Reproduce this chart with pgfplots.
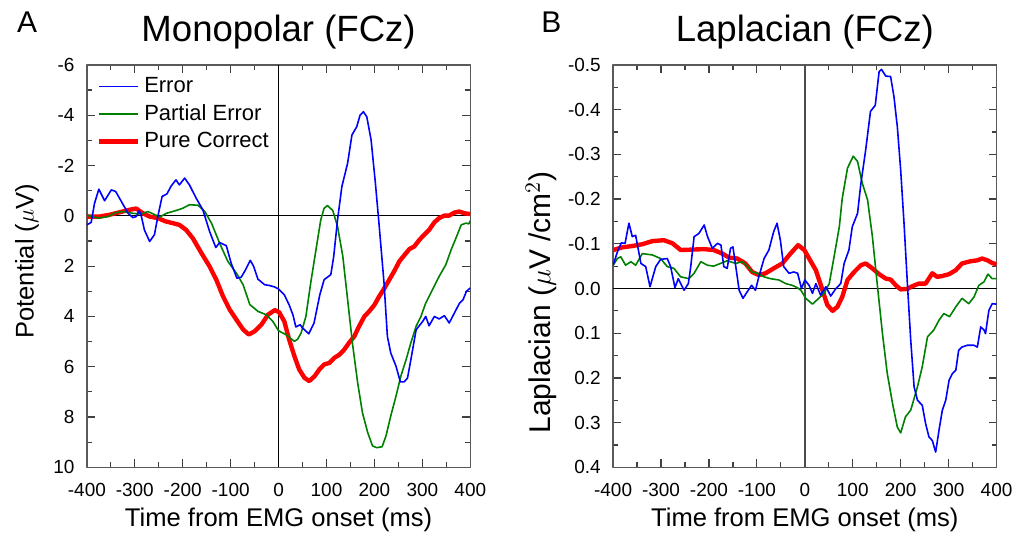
\documentclass[border=0pt]{standalone}
\usepackage{fontspec}
\setmainfont{Liberation Sans}
\usepackage{pgfplots}
\pgfplotsset{compat=1.18}

\definecolor{err}{RGB}{0,0,255}
\definecolor{part}{RGB}{0,128,0}
\definecolor{pure}{RGB}{255,0,0}

\pgfplotsset{
  eeg/.style={
    scale only axis, width=192pt, height=201.5pt,
    clip mode=individual,
    xmin=-400, xmax=400, y dir=reverse,
    xtick={-400,-300,-200,-100,0,100,200,300,400},
    minor xtick={-350,-250,-150,-50,50,150,250,350},
    xticklabels={-400,-300,-200,-100,0,100,200,300,400},
    tick align=inside, xtick pos=both, ytick pos=both,
    major tick length=4pt, minor tick length=2.5pt,
    axis line style={black!65, line width=0.7pt},
    every tick/.style={black!75, line width=0.6pt},
    every minor tick/.style={black!75, line width=0.6pt},
    tick label style={font=\fontsize{9.5}{10}\selectfont},
    xticklabel style={anchor=base, yshift=-14.5pt},
    yticklabel style={anchor=east, inner sep=0pt, xshift=-6pt},
    every axis x label/.style={at={(axis description cs:0.5,0)}, anchor=base, yshift=-29.5pt,
      font=\fontsize{12.8}{14}\selectfont},
    xlabel={Time from EMG onset (ms)},
    line join=round,
  },
  errline/.style={err, line width=0.8pt},
  partline/.style={part, line width=0.8pt},
  pureline/.style={pure, line width=2.2pt},
}

\begin{document}
\begin{tikzpicture}

% ---- A: Monopolar
\begin{axis}[eeg,
  ymin=-6, ymax=10,
  ytick={-6,-4,-2,0,2,4,6,8,10},
  minor ytick={-5,-3,-1,1,3,5,7,9},
  yticklabels={-6,-4,-2,0,2,4,6,8,10},
  every axis y label/.style={at={(axis description cs:-0.156,0.512)}, rotate=90, anchor=center,
    font=\fontsize{12.8}{14}\selectfont},
  ylabel={Potential ($\mu$V)},
  legend style={at={(axis description cs:0.02,0.985)}, anchor=north west, draw=none, fill=none,
    font=\fontsize{11}{12}\selectfont, row sep=0.5pt, inner sep=1pt,
    /tikz/every even column/.append style={column sep=0pt}},
  legend image code/.code={\draw[#1] (0pt,0pt) -- (19.5pt,0pt);},
  legend cell align=left,
]
\addlegendimage{draw=err, line width=0.8pt}
\addlegendentry{Error}
\addlegendimage{draw=part, line width=0.8pt}
\addlegendentry{Partial Error}
\addlegendimage{draw=pure, line width=2.2pt}
\addlegendentry{Pure Correct}

\addplot[black, line width=0.5pt, forget plot] coordinates {(-400,0)(400,0)};
\addplot[black, line width=0.5pt, forget plot] coordinates {(0,-6)(0,10)};

\addplot[pureline, forget plot] coordinates {
(-400,0.03)(-374,0.03)(-353,-0.04)(-328,-0.16)(-311,-0.24)(-297,-0.29)(-283,-0.1)(-269,0.03)
(-252,0.09)(-236,0.22)(-221,0.29)(-207,0.36)(-193,0.56)(-179,0.89)(-161,1.48)(-144,2.01)
(-130,2.54)(-116,3.2)(-102,3.73)(-88,4.13)(-74,4.52)(-62,4.72)(-50,4.59)(-36,4.33)(-22,3.93)
(-8,3.75)(1,3.83)(12,4.2)(22,4.92)(33,5.58)(43,6.11)(54,6.44)(64,6.57)(75,6.38)(85,6.11)
(95,5.91)(106,5.85)(116,5.65)(127,5.52)(137,5.32)(147,5.05)(158,4.79)(168,4.39)(179,4.0)
(189,3.8)(200,3.54)(210,3.2)(221,2.87)(231,2.54)(241,2.21)(252,1.81)(263,1.55)(273,1.32)
(283,1.22)(294,0.95)(304,0.75)(314,0.56)(325,0.26)(335,0.09)(346,-0.01)(356,-0.01)(367,-0.13)
(377,-0.17)(388,-0.1)(400,-0.07)};

\addplot[partline, forget plot] coordinates {
(-400,-0.04)(-391,0.03)(-374,0.09)(-356,0.03)(-339,-0.13)(-325,-0.17)(-304,-0.1)(-287,-0.07)
(-273,-0.17)(-262,-0.08)(-248,0.05)(-234,-0.1)(-214,-0.21)(-200,-0.3)(-186,-0.44)(-168,-0.42)
(-154,-0.17)(-140,0.29)(-123,1.09)(-106,1.81)(-88,2.28)(-74,2.74)(-60,3.53)(-43,3.8)(-26,3.93)
(-12,4.2)(0,4.57)(15,4.72)(33,4.99)(40,4.9)(47,4.66)(57,4.0)(67,2.67)(78,1.35)(88,0.16)
(95,-0.3)(102,-0.41)(113,-0.21)(123,0.42)(134,1.61)(144,3.33)(154,5.05)(165,6.64)(175,7.83)
(186,8.62)(196,9.15)(205,9.22)(216,9.18)(224,8.76)(234,7.96)(245,7.17)(255,6.38)(266,5.72)
(276,5.05)(287,4.39)(297,4.0)(307,3.47)(321,2.94)(335,2.41)(349,1.94)(360,1.35)(370,0.89)
(381,0.36)(391,0.29)(397,0.32)(400,0.19)};

\addplot[errline, forget plot] coordinates {
(-400,0.36)(-391,0.26)(-384,-0.5)(-375,-1.06)(-363,-0.6)(-349,-1.03)(-340,-0.97)(-328,-0.57)
(-314,-0.1)(-304,0.07)(-297,0.03)(-291,-0.2)(-287,-0.04)(-280,0.56)(-269,1.02)(-259,0.75)
(-252,0.03)(-243,-0.77)(-233,-0.87)(-224,-1.19)(-214,-1.43)(-207,-1.23)(-196,-1.5)(-186,-1.23)
(-172,-0.7)(-158,-0.24)(-144,0.62)(-131,1.26)(-123,1.06)(-109,1.19)(-99,1.88)(-87,2.48)
(-78,2.44)(-69,2.15)(-59,1.77)(-52,2.01)(-43,2.52)(-29,2.74)(-19,2.77)(-8,2.83)(0,2.91)
(12,3.14)(22,3.54)(30,3.94)(36,4.42)(45,4.33)(50,4.46)(63,4.69)(74,4.26)(86,3.14)(95,2.54)
(109,2.34)(115,1.62)(123,0.16)(132,-1.16)(144,-2.09)(153,-3.21)(163,-3.54)(170,-4.0)
(177,-4.14)(184,-3.94)(193,-3.02)(202,-1.3)(210,0.42)(220,2.67)(227,4.79)(234,5.45)(245,5.98)
(254,6.6)(262,6.6)(269,6.45)(276,5.72)(287,4.53)(301,4.19)(307,4.0)(314,4.37)(325,4.0)
(335,4.1)(346,3.97)(356,4.26)(367,3.86)(377,3.49)(385,3.33)(392,3.0)(400,2.87)};

\node[anchor=base, font=\fontsize{18.3}{20}\selectfont] at (rel axis cs:0.5,1) [yshift=11.5pt] {Monopolar (FCz)};
\node[anchor=base west, font=\fontsize{15}{16}\selectfont] at (rel axis cs:0,1) [xshift=-38.5pt, yshift=16pt] {A};
\end{axis}

% ---- B: Laplacian
\begin{axis}[eeg, at={(263.5pt,0pt)},
  ymin=-0.5, ymax=0.4,
  ytick={-0.5,-0.4,-0.3,-0.2,-0.1,0,0.1,0.2,0.3,0.4},
  minor ytick={-0.45,-0.35,-0.25,-0.15,-0.05,0.05,0.15,0.25,0.35},
  yticklabels={-0.5,-0.4,-0.3,-0.2,-0.1,0.0,0.1,0.2,0.3,0.4},
  every axis y label/.style={at={(axis description cs:-0.1875,0.41)}, rotate=90, anchor=center,
    font=\fontsize{15}{16}\selectfont},
  ylabel={Laplacian ($\mu$V /cm$^{2}$)},
]
\addplot[black, line width=0.5pt] coordinates {(-400,0)(400,0)};
\addplot[black!70, line width=0.7pt] coordinates {(0,-0.5)(0,0.4)};

\addplot[pureline] coordinates {
(-400,-0.086)(-381,-0.092)(-360,-0.095)(-339,-0.099)(-318,-0.106)(-294,-0.108)(-276,-0.101)
(-259,-0.086)(-235,-0.087)(-210,-0.088)(-190,-0.086)(-172,-0.078)(-158,-0.069)(-141,-0.067)
(-124,-0.056)(-110,-0.037)(-96,-0.03)(-82,-0.034)(-65,-0.045)(-47,-0.056)(-30,-0.078)
(-14,-0.097)(-1,-0.086)(9,-0.067)(23,-0.041)(37,0.004)(47,0.037)(58,0.05)(68,0.041)(78,0.019)
(89,-0.019)(103,-0.037)(117,-0.052)(127,-0.056)(141,-0.045)(155,-0.032)(169,-0.022)(179,-0.02)
(190,-0.007)(200,0.002)(214,0.001)(224,-0.005)(238,-0.011)(252,-0.011)(266,-0.034)(276,-0.026)
(287,-0.028)(301,-0.032)(315,-0.041)(328,-0.056)(346,-0.061)(360,-0.063)(370,-0.067)
(381,-0.063)(391,-0.057)(400,-0.054)};

\addplot[partline] coordinates {
(-400,-0.052)(-391,-0.067)(-384,-0.071)(-374,-0.052)(-363,-0.06)(-353,-0.052)(-339,-0.078)
(-318,-0.075)(-301,-0.067)(-287,-0.049)(-273,-0.045)(-259,-0.026)(-242,-0.022)(-231,-0.034)
(-217,-0.06)(-203,-0.052)(-190,-0.05)(-176,-0.056)(-162,-0.062)(-144,-0.056)(-131,-0.06)
(-120,-0.05)(-110,-0.037)(-99,-0.034)(-85,-0.026)(-72,-0.022)(-54,-0.019)(-40,-0.011)
(-26,-0.007)(-16,-0.002)(-8,0.004)(2,0.022)(16,0.035)(26,0.025)(40,0.011)(51,-0.011)
(61,-0.071)(72,-0.138)(78,-0.201)(89,-0.269)(101,-0.296)(110,-0.284)(120,-0.235)(131,-0.198)
(141,-0.116)(151,-0.011)(162,0.101)(172,0.19)(183,0.257)(193,0.31)(200,0.323)(210,0.287)
(221,0.272)(235,0.22)(245,0.175)(256,0.108)(269,0.093)(280,0.071)(290,0.056)(302,0.063)
(315,0.041)(328,0.022)(342,0.034)(353,0.019)(363,-0.007)(374,-0.015)(382,-0.032)(391,-0.022)
(400,-0.022)};

\addplot[errline] coordinates {
(-400,-0.052)(-391,-0.082)(-383,-0.102)(-375,-0.101)(-367,-0.146)(-360,-0.116)(-353,-0.119)
(-342,-0.056)(-332,-0.049)(-323,-0.004)(-311,-0.049)(-301,-0.065)(-287,-0.067)(-280,-0.049)
(-271,-0.002)(-264,-0.022)(-252,0.004)(-243,-0.011)(-238,-0.049)(-231,-0.116)(-221,-0.123)
(-210,-0.142)(-203,-0.116)(-193,-0.09)(-182,-0.101)(-175,-0.097)(-169,-0.049)(-162,-0.045)
(-155,-0.09)(-150,-0.093)(-144,-0.049)(-137,0.004)(-129,0.022)(-120,0.007)(-111,-0.007)
(-103,0.004)(-96,-0.026)(-85,-0.067)(-75,-0.086)(-65,-0.127)(-58,-0.146)(-51,-0.108)
(-44,-0.049)(-33,-0.034)(-23,-0.037)(-15,-0.034)(-7,0)(0,-0.019)(9,-0.007)(16,0.011)
(23,-0.011)(33,0.015)(44,-0.004)(54,0.017)(65,0)(75,-0.011)(82,-0.056)(92,-0.086)(99,-0.138)
(110,-0.168)(117,-0.235)(127,-0.31)(137,-0.396)(147,-0.41)(155,-0.485)(160,-0.49)(169,-0.475)
(179,-0.474)(186,-0.429)(193,-0.362)(200,-0.265)(207,-0.146)(214,-0.011)(221,0.116)(228,0.22)
(235,0.25)(245,0.261)(252,0.302)(259,0.332)(266,0.34)(273,0.366)(280,0.317)(287,0.272)
(294,0.25)(301,0.205)(308,0.19)(315,0.183)(321,0.138)(328,0.131)(339,0.127)(353,0.127)
(360,0.131)(367,0.086)(374,0.093)(377,0.101)(384,0.049)(391,0.034)(400,0.035)};

\node[anchor=base, font=\fontsize{18.3}{20}\selectfont] at (rel axis cs:0.5,1) [yshift=11.5pt] {Laplacian (FCz)};
\node[anchor=base west, font=\fontsize{15}{16}\selectfont] at (rel axis cs:0,1) [xshift=-39.5pt, yshift=16pt] {B};
\end{axis}

\path[use as bounding box] (-43.5pt,-34pt) rectangle (466pt,234pt);
\end{tikzpicture}
\end{document}
